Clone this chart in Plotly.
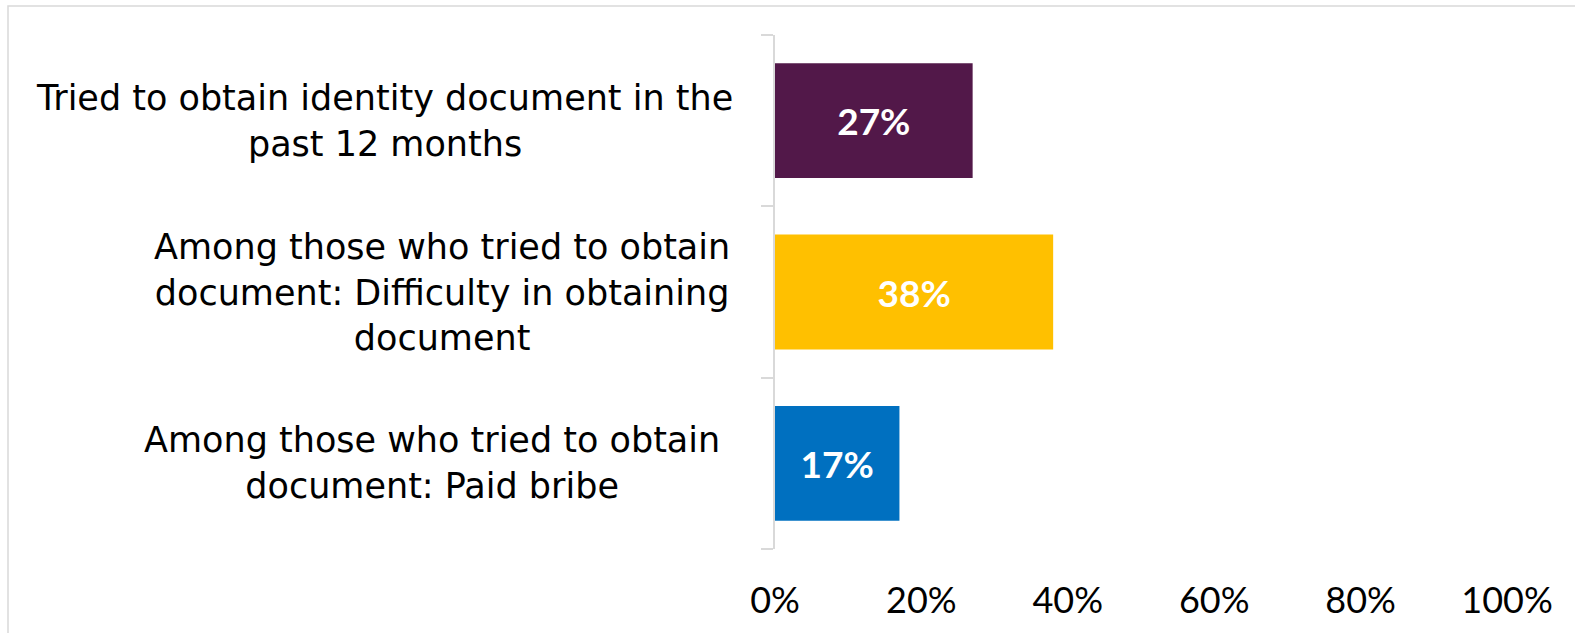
import plotly.graph_objects as go

# Survey results: identity documents
categories = [
    "Tried to obtain identity document in the<br>past 12 months",
    "Among those who tried to obtain<br>document: Difficulty in obtaining<br>document",
    "Among those who tried to obtain<br>document: Paid bribe",
]
values = [0.27, 0.38, 0.17]
bar_colors = ["#521849", "#FFC000", "#0070C0"]
x_ticks = [0, 0.2, 0.4, 0.6, 0.8, 1.0]
x_tick_labels = ["0%", "20%", "40%", "60%", "80%", "100%"]

W, H = 1575, 633
L, R, T, B = 775, 68, 35, 84
pw, ph = W - L - R, H - T - B

# Horizontal centre (in pixels) of each wrapped category label
label_centres_px = [384, 442, 432]

fig = go.Figure(
    go.Bar(
        x=values,
        y=categories,
        orientation="h",
        marker=dict(color=bar_colors, line=dict(width=0)),
        text=[f"{v:.0%}" for v in values],
        textposition="inside",
        insidetextanchor="middle",
        textangle=0,
        textfont=dict(family="Lato", size=37, color="white", weight="bold"),
        hoverinfo="skip",
    )
)

# Category labels drawn as centred multi-line text to the left of the axis
for cat, cx in zip(categories, label_centres_px):
    fig.add_annotation(
        x=(cx - L) / pw, xref="paper", y=cat, yref="y",
        text=cat, showarrow=False, align="center",
        xanchor="center", yanchor="middle",
        font=dict(family="DejaVu Sans", size=35, color="#000000"),
    )

# Light outline around the chart area
fig.add_shape(
    type="rect", xref="paper", yref="paper",
    x0=(8 - L) / pw, x1=(W + 40 - L) / pw,
    y0=-(H + 40 - (T + ph)) / ph, y1=1 + (T - 6) / ph,
    line=dict(color="#d9d9d9", width=1.5), fillcolor="rgba(0,0,0,0)", layer="below",
)

fig.update_layout(
    width=W, height=H,
    margin=dict(l=L, r=R, t=T, b=B),
    paper_bgcolor="white", plot_bgcolor="white",
    bargap=0.33,
    showlegend=False,
    xaxis=dict(
        range=[0, 1], tickvals=x_ticks, ticktext=x_tick_labels,
        showgrid=False, zeroline=False, showline=False, ticks="",
        tickfont=dict(family="Lato", size=36, color="#000000"),
        ticklabelstandoff=27,
    ),
    yaxis=dict(
        categoryorder="array", categoryarray=categories[::-1],
        showticklabels=False, showgrid=False, zeroline=False,
        showline=True, linecolor="#d9d9d9", linewidth=2,
        ticks="outside", ticklen=12, tickcolor="#d9d9d9", tickwidth=2,
        tickson="boundaries",
    ),
)

fig.write_html("out.html")
